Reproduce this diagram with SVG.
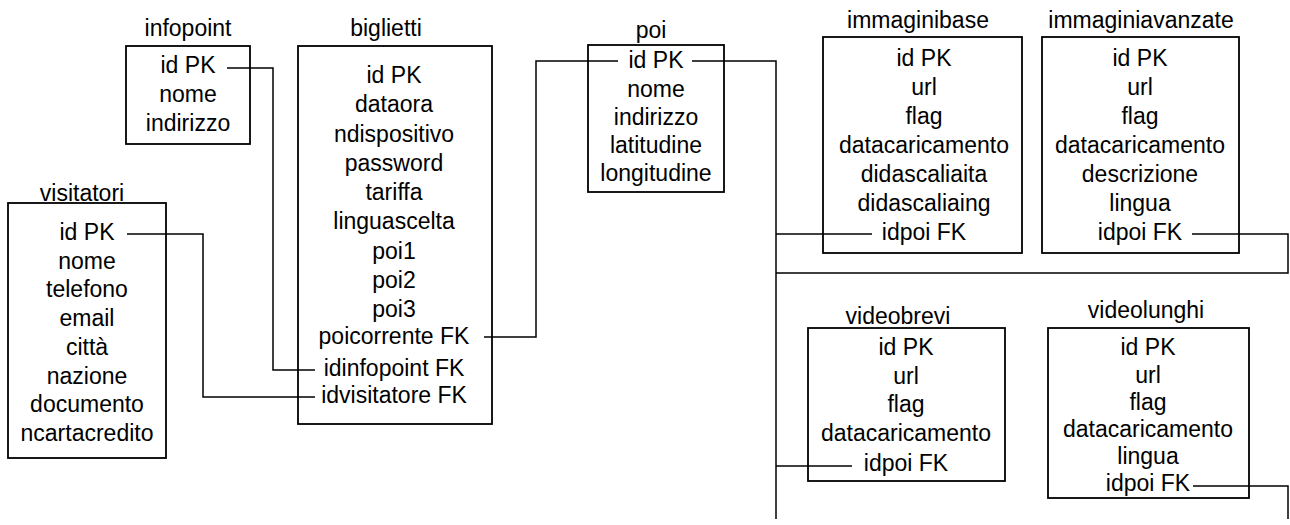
<svg xmlns="http://www.w3.org/2000/svg" width="1290" height="525" viewBox="0 0 1290 525">
<style>
  text { font-family: "Liberation Sans", Arial, sans-serif; font-size: 23px; fill: #000; text-anchor: middle; }
  .box { fill: none; stroke: #000; stroke-width: 1.8; }
  .conn { fill: none; stroke: #000; stroke-width: 1.5; }
</style>
<rect x="0" y="0" width="1290" height="525" fill="#fff"/>

<g id="infopoint">
  <rect class="box" x="126" y="46" width="124" height="98"/>
  <text x="188" y="36">infopoint</text>
  <text x="188" y="73">id PK</text>
  <text x="188" y="102">nome</text>
  <text x="188" y="131">indirizzo</text>
</g>

<g id="biglietti">
  <rect class="box" x="298" y="46" width="194" height="378"/>
  <text x="386" y="36">biglietti</text>
  <text x="394" y="83">id PK</text>
  <text x="394" y="112">dataora</text>
  <text x="394" y="141.5">ndispositivo</text>
  <text x="394" y="171">password</text>
  <text x="394" y="200">tariffa</text>
  <text x="394" y="229">linguascelta</text>
  <text x="394" y="258.5">poi1</text>
  <text x="394" y="288">poi2</text>
  <text x="394" y="317">poi3</text>
  <text x="394" y="344">poicorrente FK</text>
  <text x="394" y="376">idinfopoint FK</text>
  <text x="394" y="403">idvisitatore FK</text>
</g>

<g id="visitatori">
  <rect class="box" x="8" y="203" width="158" height="255"/>
  <text x="82" y="201">visitatori</text>
  <text x="87" y="240">id PK</text>
  <text x="87" y="268.7">nome</text>
  <text x="87" y="297.4">telefono</text>
  <text x="87" y="326">email</text>
  <text x="87" y="354.8">città</text>
  <text x="87" y="383.5">nazione</text>
  <text x="87" y="412.2">documento</text>
  <text x="87" y="441">ncartacredito</text>
</g>

<g id="poi">
  <rect class="box" x="588" y="45" width="136" height="147"/>
  <text x="651" y="38">poi</text>
  <text x="656" y="68">id PK</text>
  <text x="656" y="97">nome</text>
  <text x="656" y="125">indirizzo</text>
  <text x="656" y="153">latitudine</text>
  <text x="656" y="181">longitudine</text>
</g>

<g id="immaginibase">
  <rect class="box" x="823" y="37" width="199" height="216"/>
  <text x="918" y="28">immaginibase</text>
  <text x="924" y="66">id PK</text>
  <text x="924" y="95">url</text>
  <text x="924" y="124">flag</text>
  <text x="924" y="153">datacaricamento</text>
  <text x="924" y="182">didascaliaita</text>
  <text x="924" y="211">didascaliaing</text>
  <text x="924" y="240">idpoi FK</text>
</g>

<g id="immaginiavanzate">
  <rect class="box" x="1042" y="37" width="197" height="216"/>
  <text x="1141" y="28">immaginiavanzate</text>
  <text x="1140" y="66">id PK</text>
  <text x="1140" y="95">url</text>
  <text x="1140" y="124">flag</text>
  <text x="1140" y="153">datacaricamento</text>
  <text x="1140" y="182">descrizione</text>
  <text x="1140" y="211">lingua</text>
  <text x="1140" y="240">idpoi FK</text>
</g>

<g id="videobrevi">
  <rect class="box" x="808" y="328" width="197" height="153"/>
  <text x="898" y="324">videobrevi</text>
  <text x="906" y="355">id PK</text>
  <text x="906" y="384">url</text>
  <text x="906" y="412">flag</text>
  <text x="906" y="441">datacaricamento</text>
  <text x="906" y="471">idpoi FK</text>
</g>

<g id="videolunghi">
  <rect class="box" x="1048" y="328" width="201" height="170"/>
  <text x="1146" y="318">videolunghi</text>
  <text x="1148" y="355">id PK</text>
  <text x="1148" y="383">url</text>
  <text x="1148" y="410">flag</text>
  <text x="1148" y="437">datacaricamento</text>
  <text x="1148" y="464">lingua</text>
  <text x="1148" y="491">idpoi FK</text>
</g>

<g id="connectors">
  <polyline class="conn" points="227,68 273,68 273,370 315,370"/>
  <polyline class="conn" points="127,234 203,234 203,397 315,397"/>
  <polyline class="conn" points="484,337 536,337 536,61 618,61"/>
  <polyline class="conn" points="692,61 776,61 776,519"/>
  <polyline class="conn" points="776,234 872,234"/>
  <polyline class="conn" points="776,273 1288,273 1288,234 1192,234"/>
  <polyline class="conn" points="776,466 852,466"/>
  <polyline class="conn" points="1193,486 1288,486 1288,519"/>
</g>
</svg>
